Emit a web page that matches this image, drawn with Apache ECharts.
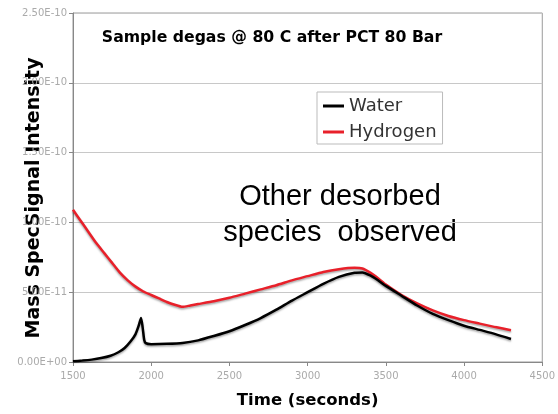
<!DOCTYPE html>
<html>
<head>
<meta charset="utf-8">
<script src="https://cdn.jsdelivr.net/npm/echarts@6/dist/echarts.min.js"></script>
<style>html,body{margin:0;padding:0;background:#fff}#c{width:558px;height:414px}</style>
</head>
<body>
<div id="c"></div>
<script>
var waterTime = [1500,1560,1620,1680,1740,1790,1830,1870,1900,1920,1935,1945,1955,1965,2000,2100,2200,2300,2400,2500,2600,2700,2800,2900,3000,3100,3200,3300,3350,3400,3450,3500,3600,3700,3800,3900,4000,4100,4200,4300];
var waterValues = [0.05e-11,0.1e-11,0.17e-11,0.28e-11,0.45e-11,0.7e-11,1.0e-11,1.5e-11,2.0e-11,2.6e-11,3.15e-11,2.5e-11,1.6e-11,1.35e-11,1.28e-11,1.3e-11,1.36e-11,1.55e-11,1.86e-11,2.2e-11,2.65e-11,3.15e-11,3.75e-11,4.4e-11,5.0e-11,5.6e-11,6.1e-11,6.4e-11,6.42e-11,6.2e-11,5.85e-11,5.45e-11,4.75e-11,4.05e-11,3.45e-11,3.0e-11,2.6e-11,2.3e-11,2.0e-11,1.65e-11];
var hydrogenTime = [1500,1550,1600,1650,1700,1750,1800,1850,1900,1950,2000,2050,2100,2150,2200,2250,2300,2400,2500,2600,2700,2800,2900,3000,3100,3200,3300,3350,3400,3450,3500,3600,3700,3800,3900,4000,4100,4200,4300];
var hydrogenValues = [10.9e-11,10.1e-11,9.3e-11,8.5e-11,7.8e-11,7.1e-11,6.4e-11,5.85e-11,5.4e-11,5.05e-11,4.8e-11,4.55e-11,4.3e-11,4.1e-11,3.95e-11,4.05e-11,4.15e-11,4.35e-11,4.6e-11,4.9e-11,5.2e-11,5.5e-11,5.85e-11,6.15e-11,6.45e-11,6.65e-11,6.75e-11,6.7e-11,6.4e-11,6.0e-11,5.55e-11,4.8e-11,4.2e-11,3.7e-11,3.3e-11,3.0e-11,2.75e-11,2.5e-11,2.28e-11];
var seriesNames = ['Water','Hydrogen'];
var chartTitle = 'Sample degas @ 80 C after PCT 80 Bar';
var xTitle = 'Time (seconds)';
var yTitle = 'Mass SpecSignal Intensity';
var noteLines = ['Other desorbed', 'species  observed'];

function pair(t, v){ return t.map(function(x,i){ return [x, v[i]]; }); }
function fmtE(v){
  var s = Number(v).toExponential(2).toUpperCase();
  var m = s.match(/^(.*)E([+-])(\d+)$/);
  var e = m[3].length < 2 ? '0' + m[3] : m[3];
  return m[1] + 'E' + m[2] + e;
}

var chart = echarts.init(document.getElementById('c'), null, {renderer:'canvas'});
var lineShadow = {shadowColor:'rgba(0,0,0,0.35)', shadowBlur:2, shadowOffsetY:1.5};
chart.setOption({
  animation:false,
  backgroundColor:'#fff',
  grid:{left:73, right:8, top:13, bottom:44, show:true, borderColor:'#9a9a9a', borderWidth:1},
  xAxis:{
    type:'value', min:1500, max:4500, interval:500,
    axisLine:{show:true, lineStyle:{color:'#888'}},
    axisTick:{show:true, length:4, lineStyle:{color:'#888'}},
    axisLabel:{color:'#aaa', fontFamily:'DejaVu Sans', fontSize:10, margin:9, formatter:function(v){ return String(v); }},
    splitLine:{show:false},
    name:xTitle, nameLocation:'middle', nameGap:30,
    nameTextStyle:{fontFamily:'DejaVu Sans', fontWeight:'bold', fontSize:16.5, color:'#000'}
  },
  yAxis:{
    type:'value', min:0, max:2.5e-10, interval:5e-11,
    axisLine:{show:true, lineStyle:{color:'#888'}},
    axisTick:{show:true, length:4, lineStyle:{color:'#888'}},
    axisLabel:{color:'#aaa', fontFamily:'DejaVu Sans', fontSize:10, margin:6, formatter:fmtE},
    splitLine:{show:true, lineStyle:{color:'#c8c8c8', width:1}}
  },
  legend:{
    data:seriesNames, orient:'vertical', left:317, top:92,
    width:120, padding:[5,6,3,6], itemGap:8, itemWidth:21, itemHeight:3,
    backgroundColor:'#fff', borderColor:'#bbb', borderWidth:1, borderRadius:0,
    icon:'rect',
    textStyle:{fontFamily:'DejaVu Sans', fontSize:18, color:'#333', lineHeight:18}
  },
  graphic:[
    {type:'text', style:{text:chartTitle, x:272, y:38, textAlign:'center', textVerticalAlign:'middle', font:'bold 15.7px "DejaVu Sans"', fill:'#000'}},
    {type:'text', style:{text:noteLines.join('\n'), x:340, y:215, textAlign:'center', textVerticalAlign:'middle', font:'29px "Liberation Sans"', lineHeight:36, fill:'#000'}},
    {type:'text', rotation:Math.PI/2, x:34, y:198, style:{text:yTitle, x:0, y:0, textAlign:'center', textVerticalAlign:'middle', font:'bold 19px "DejaVu Sans"', fill:'#000'}}
  ],
  series:[
    {name:seriesNames[0], type:'line', data:pair(waterTime, waterValues), showSymbol:false, smooth:0.2, z:3,
     lineStyle:Object.assign({color:'#000', width:2.5}, lineShadow), itemStyle:{color:'#000'}},
    {name:seriesNames[1], type:'line', data:pair(hydrogenTime, hydrogenValues), showSymbol:false, smooth:0.2, z:2,
     lineStyle:Object.assign({color:'#e8202a', width:2.5}, lineShadow), itemStyle:{color:'#e8202a'}}
  ]
});
</script>
</body>
</html>
